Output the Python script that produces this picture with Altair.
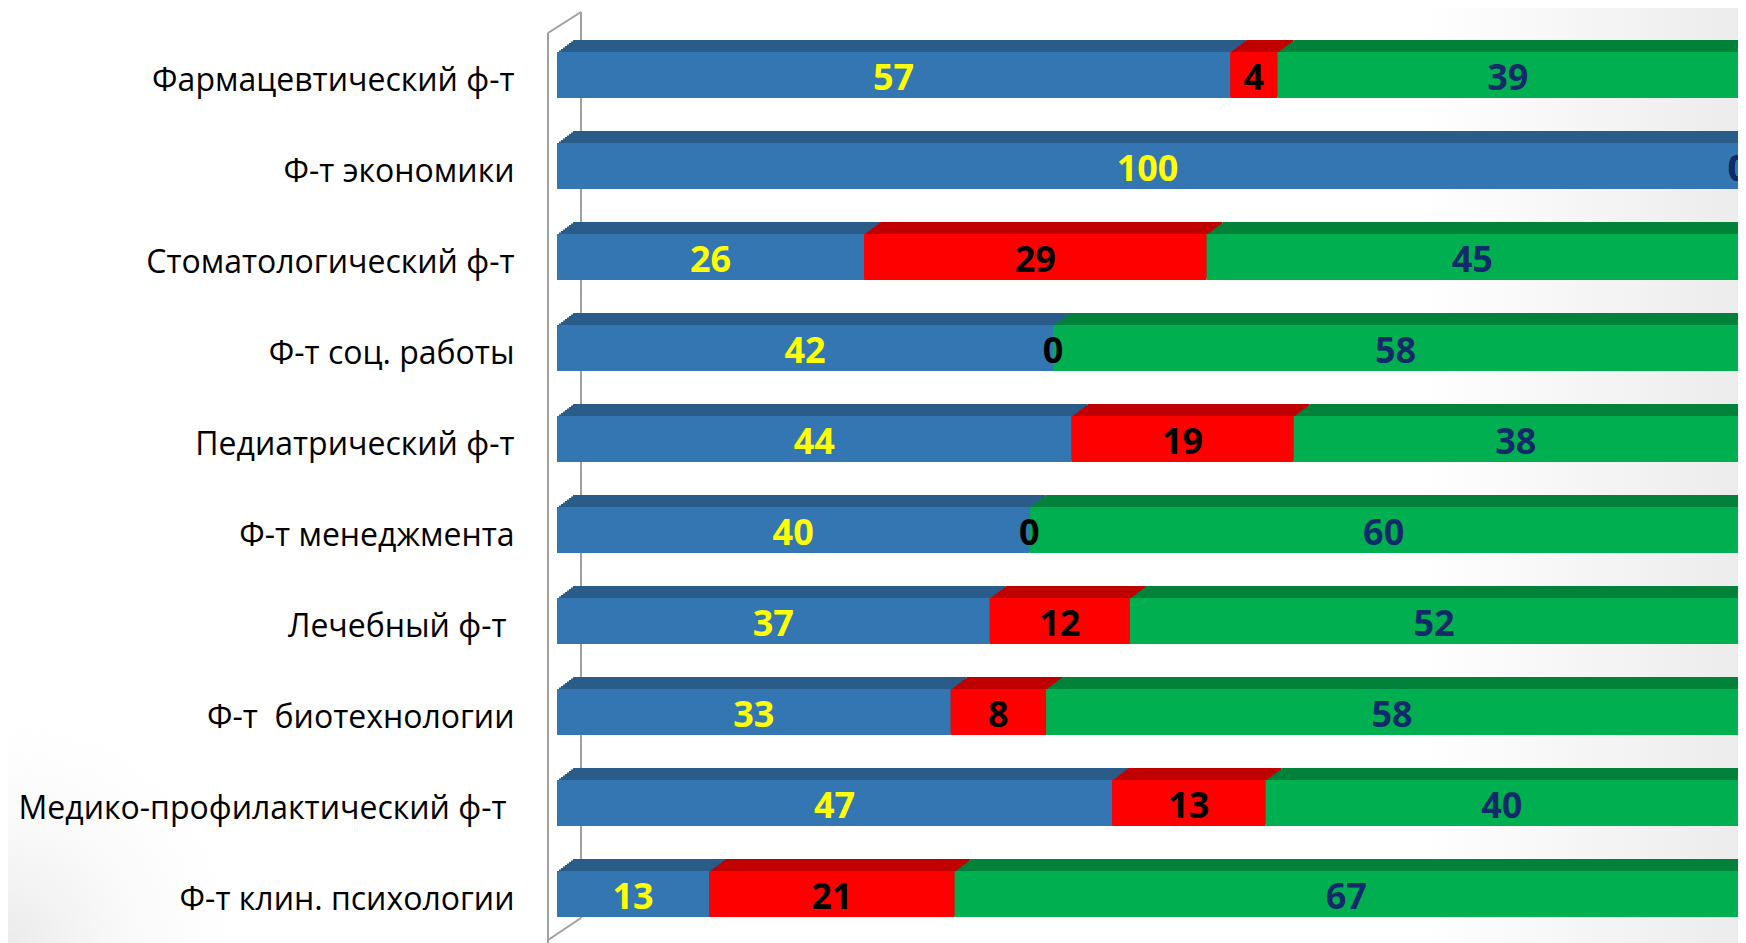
import altair as alt
import pandas as pd

categories = [
    "Фармацевтический ф-т",
    "Ф-т экономики",
    "Стоматологический ф-т",
    "Ф-т соц. работы",
    "Педиатрический ф-т",
    "Ф-т менеджмента",
    "Лечебный ф-т ",
    "Ф-т\u00a0 биотехнологии",
    "Медико-профилактический ф-т ",
    "Ф-т клин. психологии",
]
series_names = ["Серия 1", "Серия 2", "Серия 3"]
blue_vals = [57, 100, 26, 42, 44, 40, 37, 33, 47, 13]
red_vals = [4, 0, 29, 0, 19, 0, 12, 8, 13, 21]
green_vals = [39, 0, 45, 58, 38, 60, 52, 58, 40, 67]

front_colors = ["#3376B2", "#FF0000", "#00B050"]
top_colors = ["#2A5C8A", "#C00000", "#00823A"]
text_colors = ["#FFFF00", "#000000", "#102A6A"]

rows = []
for i, cat in enumerate(categories):
    for j, vals in enumerate([blue_vals, red_vals, green_vals]):
        rows.append({"cat": cat, "series": series_names[j], "order": j, "value": vals[i]})
df = pd.DataFrame(rows)

base = alt.Chart(df).transform_stack(
    stack="value", groupby=["cat"], as_=["x0", "x1"], offset="normalize",
    sort=[alt.SortField("order", order="ascending")],
).transform_calculate(mid="(datum.x0 + datum.x1) / 2")

# labels that end with a space sit a little further from the axis
label_pad = {
    "condition": {"test": "substring(datum.value, length(datum.value) - 1) == ' '", "value": 51},
    "value": 43,
}

y_enc = alt.Y(
    "cat:N", sort=categories,
    scale=alt.Scale(paddingInner=0.495, paddingOuter=0.242),
    axis=alt.Axis(title=None, domain=False, ticks=False, tickSize=0, labelPadding=label_pad,
                  labelOffset=6, labelFont="Open Sans", labelFontSize=32,
                  labelColor="#000000", labelLimit=0, grid=False, zindex=1),
)
x_scale = alt.Scale(domain=[0, 1], nice=False, zero=False)

layers = []
bg = pd.DataFrame({"a": [0]})

# soft background shading
layers.append(alt.Chart(bg).mark_rect(
    fill=alt.LinearGradient(
        gradient="linear", x1=0, x2=1, y1=0, y2=0,
        stops=[alt.GradientStop(color="#FFFFFF", offset=0),
               alt.GradientStop(color="#FFFFFF", offset=0.82),
               alt.GradientStop(color="#ECECEC", offset=1)]),
    clip=False,
).encode(x=alt.value(-549), x2=alt.value(1181), y=alt.value(-22), y2=alt.value(913)))
layers.append(alt.Chart(bg).mark_rect(
    fill=alt.RadialGradient(
        gradient="radial", x1=0, y1=1, r1=0, x2=0, y2=1, r2=1,
        stops=[alt.GradientStop(color="rgba(220,220,220,0.6)", offset=0),
               alt.GradientStop(color="rgba(255,255,255,0)", offset=1)]),
    clip=False,
).encode(x=alt.value(-549), x2=alt.value(-289), y=alt.value(660), y2=alt.value(913)))

# 3D back wall
gray = "#A0A0A0"
layers.append(alt.Chart(bg).mark_rule(color=gray, strokeWidth=2).encode(
    x=alt.value(24), y=alt.value(-18), y2=alt.value(888)))
layers.append(alt.Chart(bg).mark_rule(color=gray, strokeWidth=2).encode(
    x=alt.value(-9), x2=alt.value(24), y=alt.value(3), y2=alt.value(-18)))
layers.append(alt.Chart(bg).mark_rule(color=gray, strokeWidth=2).encode(
    x=alt.value(24), x2=alt.value(-9), y=alt.value(888), y2=alt.value(910)))
layers.append(alt.Chart(bg).mark_rule(color=gray, strokeWidth=2).encode(
    x=alt.value(-9), y=alt.value(3), y2=alt.value(915)))

# top (depth) faces
for k in range(16, 0, -2):
    layers.append(base.mark_bar(xOffset=k, x2Offset=k, yOffset=-k * 0.75, clip=False).encode(
        y=y_enc,
        x=alt.X("x0:Q", scale=x_scale, axis=None),
        x2="x1:Q",
        color=alt.Color("series:N", scale=alt.Scale(domain=series_names, range=top_colors), legend=None),
    ))

# front faces
layers.append(base.mark_bar().encode(
    y=y_enc,
    x=alt.X("x0:Q", scale=x_scale, axis=None),
    x2="x1:Q",
    color=alt.Color("series:N", scale=alt.Scale(domain=series_names, range=front_colors), legend=None),
))

# value labels
for j, s in enumerate(series_names):
    layers.append(base.transform_filter(alt.datum.series == s).mark_text(
        font="Open Sans", fontSize=36, fontWeight="bold", color=text_colors[j],
        baseline="middle", align="center", dy=4, clip=False,
    ).encode(
        y=y_enc,
        x=alt.X("mid:Q", scale=x_scale, axis=None),
        text="value:Q",
    ))

chart = alt.layer(*layers).resolve_scale(color="independent").properties(
    width=1181, height=909,
    autosize=alt.AutoSizeParams(type="none"),
    padding={"left": 549, "top": 22, "right": 0, "bottom": 4},
    background="#FFFFFF",
).configure_view(stroke=None)

chart.save("out.html", embed_options={"renderer": "svg", "actions": False})
